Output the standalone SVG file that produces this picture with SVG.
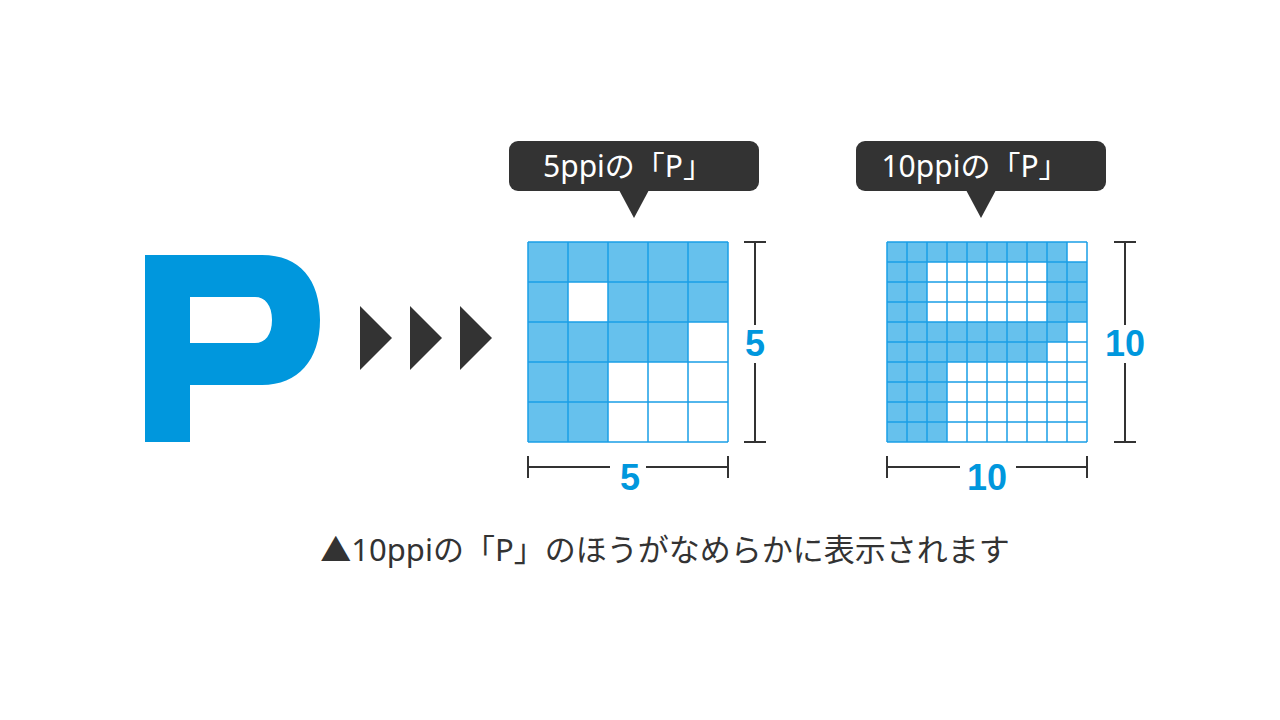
<svg xmlns="http://www.w3.org/2000/svg" width="1280" height="720" viewBox="0 0 1280 720">
<style>
.f{fill:#66c1ed}
.g{stroke:#1a9ee6;stroke-width:1.5;fill:none}
.d{stroke:#333;stroke-width:2;fill:none}
.bl{fill:#333}
.bt{font-family:"Noto Sans","Noto Sans CJK JP",sans-serif;font-size:30px;fill:#fff;text-anchor:middle}
.n{font-family:"Liberation Sans",sans-serif;font-weight:bold;font-size:36px;fill:#0097dd;text-anchor:middle}
</style>
<rect width="1280" height="720" fill="#fff"/>
<g id="bigP"><path fill="#0097dd" fill-rule="evenodd" d="M145 255H262C300 255 320 280 320 320C320 360 298 385 262 385H190V442H145ZM190 297V343H255C265 343 272 335 272 320C272 305 265 297 255 297Z"/></g>
<g id="arrows" class="bl"><path d="M360 306L392 338L360 370Z"/><path d="M410 306L442 338L410 370Z"/><path d="M460 306L492 338L460 370Z"/></g>
<g id="bubble5"><rect x="509" y="141" width="250" height="50" rx="9" class="bl"/><path class="bl" d="M619 190L649 190L634 218Z"/><text x="628" y="177" class="bt">5ppiの「P」</text></g>
<g id="bubble10"><rect x="856" y="141" width="250" height="50" rx="9" class="bl"/><path class="bl" d="M966 190L996 190L981 218Z"/><text x="975" y="177" class="bt">10ppiの「P」</text></g>
<g id="grid5">
<path class="f" d="M528 242H728V322H688V282H608V322H688V362H608V442H528Z M568 282H688V322H568Z" fill-rule="evenodd"/>
<rect class="f" x="528" y="282" width="40" height="40"/>
<path class="g" d="M528 242V442M568 242V442M608 242V442M648 242V442M688 242V442M728 242V442M528 242H728M528 282H728M528 322H728M528 362H728M528 402H728M528 442H728"/>
</g>
<g id="grid10">
<path class="f" d="M887 242H1067V262H1087V322H1067V342H1047V362H947V442H887Z"/>
<rect x="927" y="262" width="120" height="60" fill="#fff"/>
<path class="g" d="M887 242V442M907 242V442M927 242V442M947 242V442M967 242V442M987 242V442M1007 242V442M1027 242V442M1047 242V442M1067 242V442M1087 242V442M887 242H1087M887 262H1087M887 282H1087M887 302H1087M887 322H1087M887 342H1087M887 362H1087M887 382H1087M887 402H1087M887 422H1087M887 442H1087"/>
</g>
<g id="dims">
<path class="d" d="M755 242V442M744 242H766M744 442H766M528 467H728M528 456V478M728 456V478"/>
<path class="d" d="M1125 242V442M1114 242H1136M1114 442H1136M887 467H1087M887 456V478M1087 456V478"/>
<rect x="740" y="325" width="30" height="38" fill="#fff"/>
<rect x="610" y="455" width="36" height="30" fill="#fff"/>
<rect x="1100" y="325" width="50" height="38" fill="#fff"/>
<rect x="960" y="455" width="56" height="30" fill="#fff"/>
<text x="755" y="356" class="n">5</text>
<text x="630" y="490" class="n">5</text>
<text x="1125" y="356" class="n">10</text>
<text x="987" y="490" class="n">10</text>
</g>
<text x="665" y="561" font-family="Noto Sans,Noto Sans CJK JP,sans-serif" font-size="31" fill="#333" text-anchor="middle">▲10ppiの「P」のほうがなめらかに表示されます</text>
</svg>
